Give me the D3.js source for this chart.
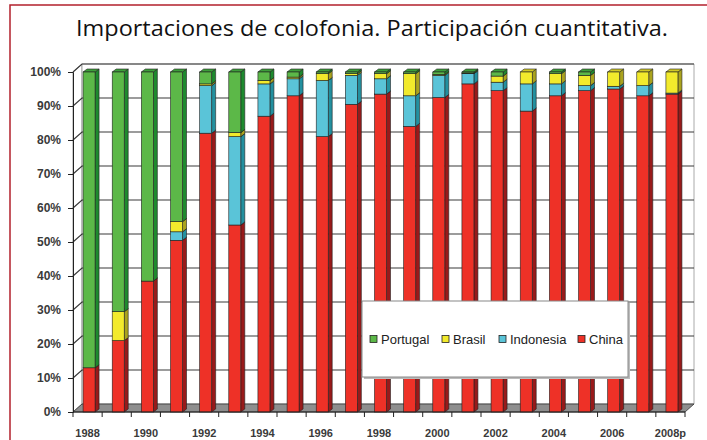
<!DOCTYPE html>
<html lang="es">
<head>
  <meta charset="UTF-8">
  <title>Importaciones de colofonia</title>
  <script src="https://d3js.org/d3.v7.min.js"></script>
  <style>
    body { margin: 0; background: #fff; }
    svg { display: block; }
  </style>
</head>
<body>
  <svg id="chart" width="707" height="440"></svg>
  <script>
const years = ["1988","1989","1990","1991","1992","1993","1994","1995","1996","1997","1998",
  "1999","2000","2001","2002","2003","2004","2005","2006","2007","2008p"];
const shownLabels = ["1988","1990","1992","1994","1996","1998","2000","2002","2004","2006","2008p"];

// participación (%) por país de origen
const china     = [13, 21, 38.5, 50.5, 82, 55, 87, 93, 81, 90.5, 93.5, 84, 92.5, 96.5, 94.5, 88.5, 93, 94.5, 95, 93, 93.5];
const indonesia = [0, 0, 0, 2.5, 14, 26, 9.5, 5, 16.5, 8.5, 4.5, 9, 6.5, 3, 2.5, 8, 3.5, 1.5, 0.8, 3, 0.3];
const brasil    = [0, 8.5, 0, 3, 0.5, 1.2, 1, 0.5, 2, 0.5, 1.5, 6.5, 0.3, 0.2, 1.8, 3.5, 3, 3, 4.2, 4, 6.2];
const portugal  = [87, 70.5, 61.5, 44, 3.5, 17.8, 2.5, 1.5, 0.5, 0.5, 0.5, 0.5, 0.7, 0.3, 1.2, 0, 0.5, 1, 0, 0, 0];

const series = [
  { name: "China",     values: china,     front: "#ee3127", side: "#981a1a", top: "#c42424" },
  { name: "Indonesia", values: indonesia, front: "#5ac4d8", side: "#23909f", top: "#3aaabd" },
  { name: "Brasil",    values: brasil,    front: "#f2ea2c", side: "#aaa31e", top: "#cfc826" },
  { name: "Portugal",  values: portugal,  front: "#5cb848", side: "#1e8a2e", top: "#3c9e3a" }
];
const legendOrder = ["Portugal", "Brasil", "Indonesia", "China"];

const svg = d3.select("#chart");

// marco rojo
svg.append("path")
  .attr("d", "M10,440 L10,5 L707,5")
  .attr("fill", "none")
  .attr("stroke", "#b3202c")
  .attr("stroke-width", 1.5);

svg.append("text")
  .attr("x", 372)
  .attr("y", 36)
  .attr("text-anchor", "middle")
  .attr("font-family", "'Open Sans', sans-serif")
  .attr("font-size", "22px")
  .attr("fill", "#111")
  .attr("textLength", 592)
  .attr("lengthAdjust", "spacingAndGlyphs")
  .text("Importaciones de colofonia. Participación cuantitativa.");

const left = 73, right = 685, bottom = 412, topY = 72;
const dx = 9, dy = -8;      // profundidad del gráfico 3D
const bdx = 4, bdy = -3;    // profundidad de las barras

const x = d3.scaleBand().domain(years).range([left, right]);
const y = d3.scaleLinear().domain([0, 100]).range([bottom, topY]);

const g = svg.append("g");

// pared lateral, pared de fondo y suelo
g.append("polygon")
  .attr("points", [[left, topY], [left + dx, topY + dy], [left + dx, bottom + dy], [left, bottom]].join(" "))
  .attr("fill", "#fff").attr("stroke", "#999");
g.append("polygon")
  .attr("points", [[left + dx, topY + dy], [right + dx, topY + dy], [right + dx, bottom + dy], [left + dx, bottom + dy]].join(" "))
  .attr("fill", "#fff").attr("stroke", "#aaa");

g.selectAll(".grid")
  .data(y.ticks(10).filter(d => d > 0))
  .enter().append("polyline")
  .attr("points", d => [[left, y(d)], [left + dx, y(d) + dy], [right + dx, y(d) + dy]].join(" "))
  .attr("fill", "none")
  .attr("stroke", "#3a3a3a")
  .attr("stroke-width", 1.2);

g.append("polygon")
  .attr("points", [[left, bottom], [right, bottom], [right + dx, bottom + dy], [left + dx, bottom + dy]].join(" "))
  .attr("fill", "#8e8e8e").attr("stroke", "#333").attr("stroke-width", 0.8);

// barras apiladas
const bw = 12;
const stacks = years.map((yr, i) => {
  let acc = 0;
  return series.map(s => {
    const seg = { year: yr, s, y0: acc, y1: acc + s.values[i] };
    acc += s.values[i];
    return seg;
  }).filter(seg => seg.y1 > seg.y0);
});

const bars = g.selectAll(".bar")
  .data(stacks)
  .enter().append("g")
  .attr("class", "bar");

bars.each(function(segs) {
  const bg = d3.select(this);
  segs.forEach(seg => {
    const x0 = x(seg.year) + x.bandwidth() / 2 - 4.5;
    const x1 = x0 + bw;
    const yb = y(seg.y0), yt = y(seg.y1);
    bg.append("polygon")
      .attr("points", [[x1, yb], [x1 + bdx, yb + bdy], [x1 + bdx, yt + bdy], [x1, yt]].join(" "))
      .attr("fill", seg.s.side).attr("stroke", "#222").attr("stroke-width", 0.6);
    bg.append("polygon")
      .attr("points", [[x0, yt], [x0 + bdx, yt + bdy], [x1 + bdx, yt + bdy], [x1, yt]].join(" "))
      .attr("fill", seg.s.top).attr("stroke", "#222").attr("stroke-width", 0.6);
    bg.append("rect")
      .attr("x", x0).attr("y", yt)
      .attr("width", bw).attr("height", yb - yt)
      .attr("fill", seg.s.front).attr("stroke", "#222").attr("stroke-width", 0.6);
  });
});

// eje Y
const yAxis = svg.append("g")
  .attr("transform", `translate(${left},0)`)
  .call(d3.axisLeft(y).ticks(10).tickSize(5).tickPadding(7).tickFormat(d => d + "%"));
yAxis.select(".domain").attr("stroke", "#222");
yAxis.selectAll("line").attr("stroke", "#222");
yAxis.selectAll("text")
  .attr("font-family", "Arial, 'Liberation Sans', sans-serif")
  .attr("font-size", "12px")
  .attr("font-weight", "bold")
  .attr("fill", "#3a3a3a");

// eje X
svg.append("line")
  .attr("x1", left).attr("x2", right)
  .attr("y1", bottom).attr("y2", bottom)
  .attr("stroke", "#222");
svg.selectAll(".xtick")
  .data(years.concat(["end"]))
  .enter().append("line")
  .attr("x1", (d, i) => left + i * x.step())
  .attr("x2", (d, i) => left + i * x.step())
  .attr("y1", bottom).attr("y2", bottom + 5)
  .attr("stroke", "#222");
svg.selectAll(".xlabel")
  .data(shownLabels)
  .enter().append("text")
  .attr("x", d => x(d) + x.bandwidth() / 2)
  .attr("y", 437)
  .attr("text-anchor", "middle")
  .attr("font-family", "Arial, 'Liberation Sans', sans-serif")
  .attr("font-size", "11px")
  .attr("font-weight", "bold")
  .attr("fill", "#3a3a3a")
  .text(d => d);

// leyenda
const legend = svg.append("g");
legend.append("rect")
  .attr("x", 364).attr("y", 303).attr("width", 266).attr("height", 76)
  .attr("fill", "#bbb");
legend.append("rect")
  .attr("x", 362).attr("y", 301).attr("width", 266).attr("height", 76)
  .attr("fill", "#fff").attr("stroke", "#888");
const legendX = [370, 442, 499, 578];
legendOrder.forEach((name, i) => {
  const s = series.find(d => d.name === name);
  legend.append("rect")
    .attr("x", legendX[i]).attr("y", 335.5)
    .attr("width", 7).attr("height", 7)
    .attr("fill", s.front).attr("stroke", "#222").attr("stroke-width", 0.8);
  legend.append("text")
    .attr("x", legendX[i] + 11).attr("y", 344)
    .attr("font-family", "Arial, 'Liberation Sans', sans-serif")
    .attr("font-size", "13px")
    .attr("fill", "#222")
    .text(name);
});
  </script>
</body>
</html>
